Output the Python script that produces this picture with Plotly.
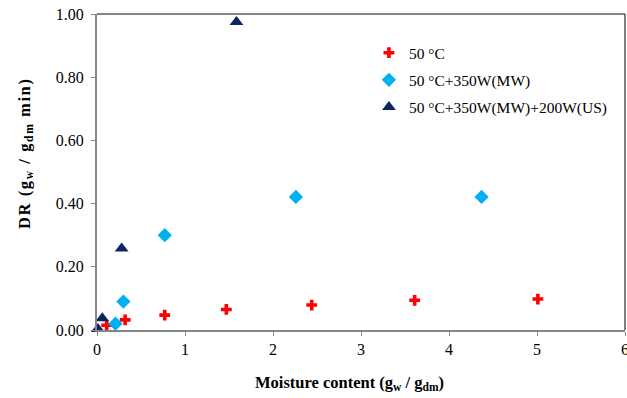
import plotly.graph_objects as go

# Drying rate vs moisture content for three drying conditions
moisture_50c = [0.11, 0.32, 0.77, 1.47, 2.44, 3.61, 5.01]
dr_50c = [0.015, 0.032, 0.047, 0.065, 0.079, 0.094, 0.098]

moisture_mw = [0.21, 0.30, 0.77, 2.26, 4.37]
dr_mw = [0.020, 0.090, 0.300, 0.421, 0.421]

moisture_mw_us = [0.01, 0.06, 0.28, 1.585]
dr_mw_us = [0.003, 0.037, 0.258, 0.975]

series_names = ["50 °C", "50 °C+350W(MW)", "50 °C+350W(MW)+200W(US)"]
y_ticks = [0.0, 0.2, 0.4, 0.6, 0.8, 1.0]
x_ticks = [0, 1, 2, 3, 4, 5, 6]

x_title = "<b>Moisture content (g<sub>w</sub> / g<sub>dm</sub>)</b>"
y_title = ('<span style="letter-spacing:1.6px"><b>DR (g<sub>w</sub> / '
           'g<sub>dm</sub> min)</b></span>')

FONT = "Liberation Serif"
AXIS_GREY = "#868686"

fig = go.Figure()
fig.add_trace(go.Scatter(
    x=moisture_50c, y=dr_50c, mode="markers", name=series_names[0],
    legendgroup="a", cliponaxis=False,
    marker=dict(symbol="cross", size=9, color="#ff0000", line=dict(width=0)),
))
fig.add_trace(go.Scatter(
    x=moisture_mw, y=dr_mw, mode="markers", name=series_names[1],
    legendgroup="b", cliponaxis=False,
    marker=dict(symbol="diamond", size=11, color="#00b0f0", line=dict(width=0)),
))
fig.add_trace(go.Scatter(
    x=moisture_mw_us, y=dr_mw_us, mode="markers", name=series_names[2],
    legendgroup="c", cliponaxis=False,
    marker=dict(symbol="triangle-up", size=12, color="#0b2560", line=dict(width=0)),
))

fig.update_layout(
    width=627, height=398,
    margin=dict(l=97, r=2, t=14, b=68, autoexpand=False),
    paper_bgcolor="white", plot_bgcolor="white",
    font=dict(family=FONT, size=16, color="black"),
    showlegend=True,
    legend=dict(
        x=0.515, y=0.93, xanchor="left", yanchor="top",
        font=dict(family=FONT, size=15.5, color="black"),
        tracegroupgap=4, bgcolor="rgba(0,0,0,0)",
    ),
    xaxis=dict(
        range=[0, 6], tickvals=x_ticks, ticktext=[str(v) for v in x_ticks],
        automargin=False,
        showgrid=False, zeroline=False,
        showline=True, linecolor=AXIS_GREY, linewidth=2,
        ticks="outside", ticklen=4, tickcolor=AXIS_GREY, tickwidth=1,
        ticklabeloverflow="allow",
        tickfont=dict(family=FONT, size=16),
    ),
    yaxis=dict(
        range=[0, 1], tickvals=y_ticks, tickformat=".2f",
        automargin=False,
        showgrid=False, zeroline=False,
        showline=True, linecolor=AXIS_GREY, linewidth=2,
        ticks="outside", ticklen=4, tickcolor=AXIS_GREY, tickwidth=1,
        ticklabelstandoff=4,
        tickfont=dict(family=FONT, size=16),
    ),
    annotations=[
        dict(text=x_title, xref="paper", yref="paper", x=0.4773, y=-0.1677,
             xanchor="center", yanchor="middle", showarrow=False,
             font=dict(family=FONT, size=16.5)),
        dict(text=y_title, xref="paper", yref="paper", x=-0.1364, y=0.56,
             xanchor="center", yanchor="middle", showarrow=False, textangle=-90,
             font=dict(family=FONT, size=16.5)),
    ],
    shapes=[
        # top frame line
        dict(type="line", xref="paper", yref="paper", x0=0, x1=1, y0=1, y1=1,
             line=dict(color=AXIS_GREY, width=2)),
        # right frame line
        dict(type="line", xref="paper", yref="paper", x0=1, x1=1, y0=0, y1=1,
             line=dict(color="black", width=1)),
    ],
)

fig.write_html("out.html")
